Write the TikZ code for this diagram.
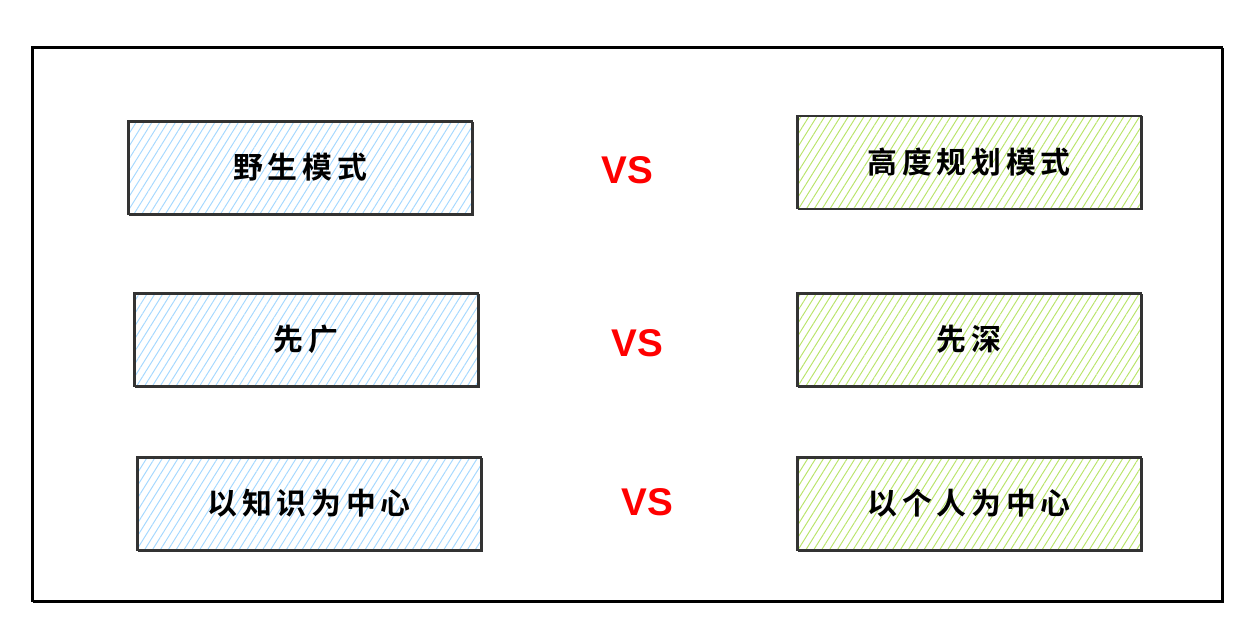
\documentclass[tikz,border=0pt]{standalone}
\usepackage{fontspec}
\usetikzlibrary{patterns.meta}
\newfontfamily\cjk[LetterSpace=16]{Noto Sans CJK SC Bold}
\newfontfamily\vsfont{Liberation Sans}
\definecolor{hblue}{HTML}{A5D8FF}
\definecolor{hgreen}{HTML}{B9E46A}
\definecolor{ink}{HTML}{333333}
\definecolor{vsred}{HTML}{FF0000}
\tikzset{
  card/.style={rectangle, minimum width=6.88cm, minimum height=1.86cm, inner sep=0pt,
    draw=ink, line width=0.9pt,
    pattern={Lines[angle=58, distance=3.8pt, line width=0.55pt]},
    postaction={draw=ink, line width=0.6pt, transform canvas={shift={(0.6pt,-0.7pt)}}},
    font=\cjk\fontsize{17}{20}\selectfont},
  bluecard/.style={card, pattern color=hblue},
  greencard/.style={card, pattern color=hgreen},
  vslabel/.style={text=vsred, font=\vsfont\bfseries\fontsize{22}{24}\selectfont, inner sep=0pt},
  frame/.style={draw=black, line width=1.1pt,
    postaction={draw=black, line width=0.6pt, transform canvas={shift={(0.8pt,-0.9pt)}}}}
}
\begin{document}
\begin{tikzpicture}[x=0.02cm,y=-0.02cm]
\useasboundingbox (0,0) rectangle (1251,630);
\draw[frame] (32,47) rectangle (1222,601);
\node[bluecard] (l1) at (300,167.5) {野生模式};
\node[greencard] (r1) at (969,162) {高度规划模式};
\node[bluecard] (l2) at (306,339.5) {先广};
\node[greencard] (r2) at (969,339.5) {先深};
\node[bluecard] (l3) at (309,503.5) {以知识为中心};
\node[greencard] (r3) at (969,503.5) {以个人为中心};
\node[vslabel] (v1) at (627,170) {VS};
\node[vslabel] (v2) at (637,343) {VS};
\node[vslabel] (v3) at (647,502) {VS};
\end{tikzpicture}
\end{document}
